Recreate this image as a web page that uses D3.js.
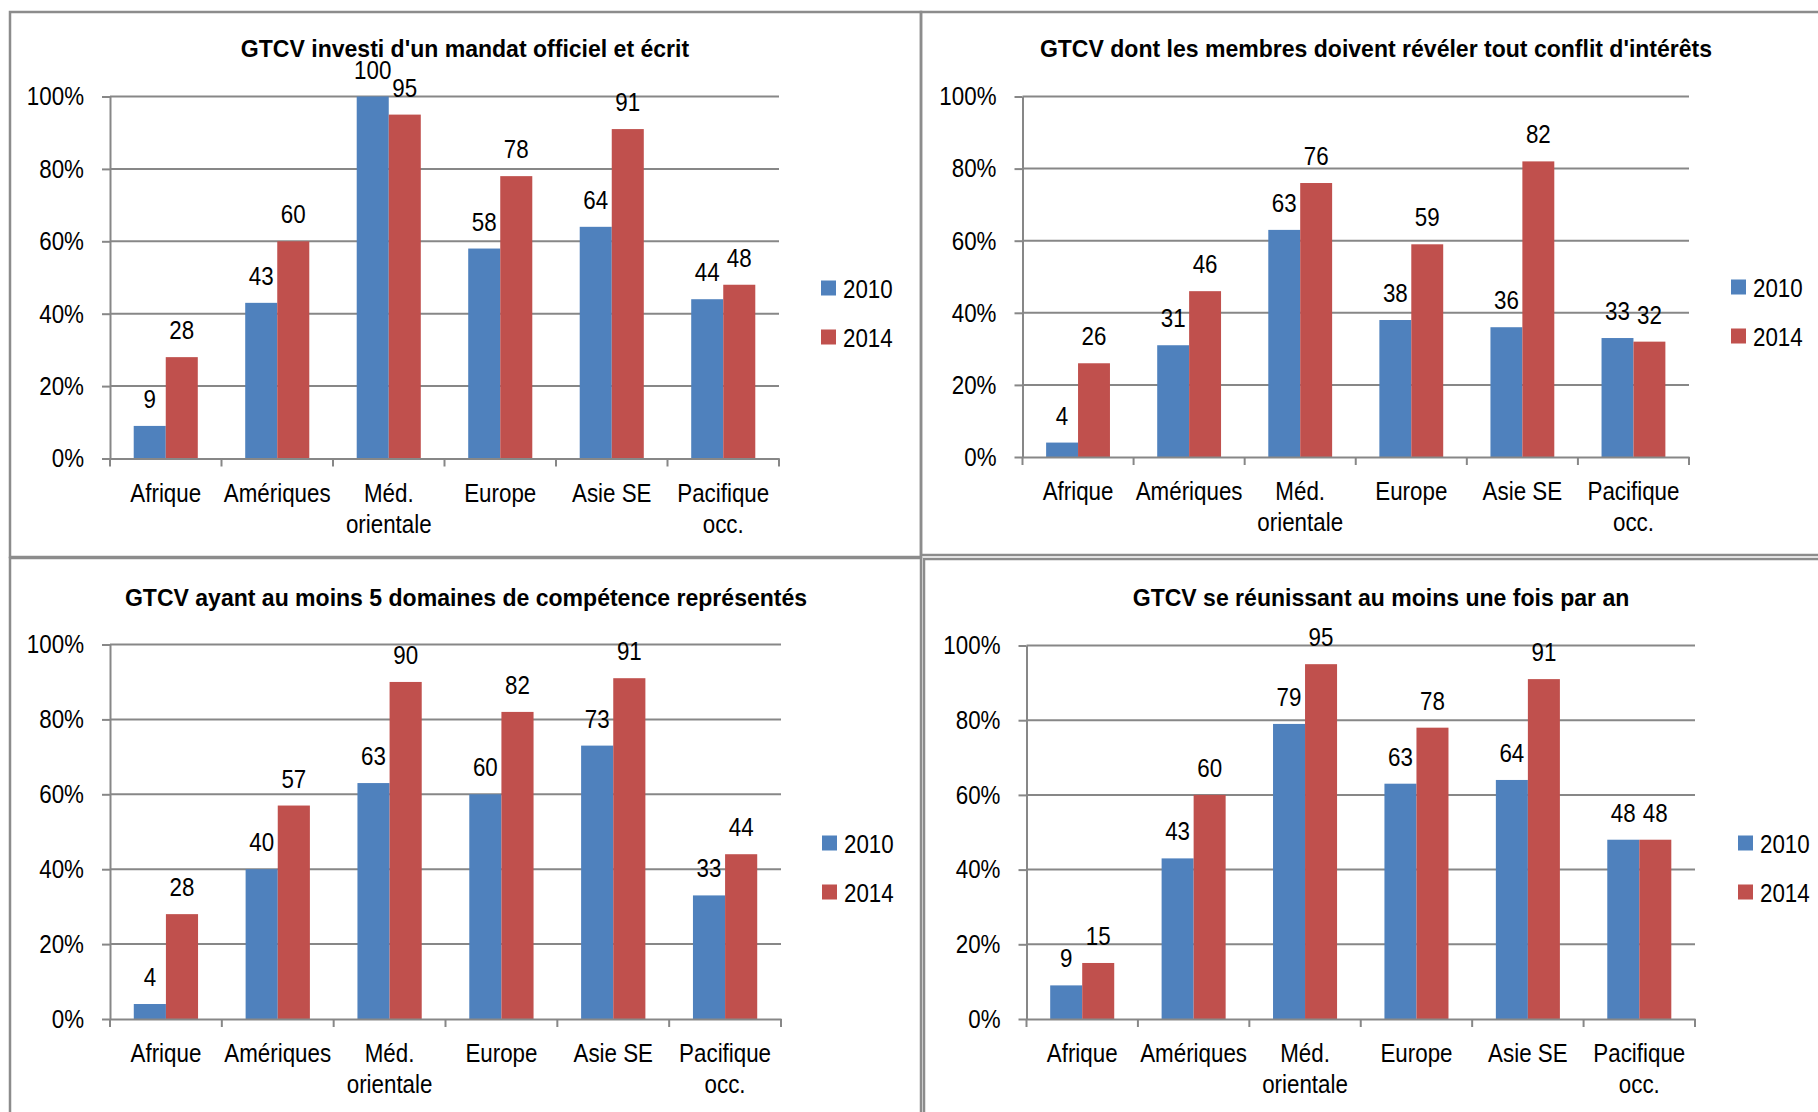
<!DOCTYPE html>
<html lang="fr">
<head>
<meta charset="UTF-8">
<title>GTCV 2010 / 2014</title>
<script src="https://d3js.org/d3.v7.min.js"></script>
<style>
  body { margin: 0; background: #fff; }
  svg text { font-family: "Liberation Sans", Arial, sans-serif; fill: #000; }
  .title { font-weight: bold; font-size: 24px; }
  .grid line { stroke: #878787; stroke-width: 2px; }
  .axis path, .axis line { stroke: #878787; stroke-width: 2px; }
  .axis text, .label, .legend text { font-size: 26px; }
  .frame { fill: none; stroke: #8c8c8c; stroke-width: 2.5px; }
</style>
</head>
<body>
<div id="chart"></div>
<script>
// data
const categories = ["Afrique", "Amériques", "Méd.\norientale", "Europe", "Asie SE", "Pacifique\nocc."];
const years = ["2010", "2014"];
const yTicks = [0, 20, 40, 60, 80, 100];

const titles = [
  "GTCV investi d'un mandat officiel et écrit",
  "GTCV dont les membres doivent révéler tout conflit d'intérêts",
  "GTCV ayant au moins 5 domaines de compétence représentés",
  "GTCV se réunissant au moins une fois par an"
];

const mandat2010 = [9, 43, 100, 58, 64, 44];
const mandat2014 = [28, 60, 95, 78, 91, 48];
const conflit2010 = [4, 31, 63, 38, 36, 33];
const conflit2014 = [26, 46, 76, 59, 82, 32];
const domaines2010 = [4, 40, 63, 60, 73, 33];
const domaines2014 = [28, 57, 90, 82, 91, 44];
const reunion2010 = [9, 43, 79, 63, 64, 48];
const reunion2014 = [15, 60, 95, 78, 91, 48];

const colors = { "2010": "#4F81BD", "2014": "#C0504D" };

// the original uses a narrow face: squeeze Liberation Sans horizontally
function narrow(sel, k) {
  k = k || 0.86;
  sel.each(function() {
    const t = d3.select(this);
    const x = +t.attr("x") || 0, y = +t.attr("y") || 0;
    t.attr("x", 0).attr("y", 0)
     .attr("transform", "translate(" + x + "," + y + ") scale(" + k + ",1)");
  });
}

// layout of the four panels (frame, plot area, title, legend)
const panels = [
  { title: titles[0], s: [mandat2010, mandat2014],
    frame: [10, 12, 921, 557], plot: [110, 96.5, 779, 458.5], titleX: 465, titleY: 57, legX: 821, legY: 288 },
  { title: titles[1], s: [conflit2010, conflit2014],
    frame: [921, 12, 1830, 555], plot: [1022.5, 96.5, 1689, 457], titleX: 1376, titleY: 57, legX: 1731, legY: 287 },
  { title: titles[2], s: [domaines2010, domaines2014],
    frame: [10, 558, 921, 1125], plot: [110, 644.5, 781, 1019], titleX: 466, titleY: 606, legX: 822, legY: 843 },
  { title: titles[3], s: [reunion2010, reunion2014],
    frame: [924, 559, 1830, 1125], plot: [1026.5, 645.5, 1695, 1019], titleX: 1381, titleY: 606, legX: 1738, legY: 843 }
];

const svg = d3.select("#chart").append("svg")
    .attr("width", 1818)
    .attr("height", 1112);

panels.forEach(p => {
  // frame
  svg.append("rect")
      .attr("class", "frame")
      .attr("x", p.frame[0]).attr("y", p.frame[1])
      .attr("width", p.frame[2] - p.frame[0])
      .attr("height", p.frame[3] - p.frame[1]);

  const width = p.plot[2] - p.plot[0],
        height = p.plot[3] - p.plot[1];

  const g = svg.append("g")
      .attr("transform", "translate(" + p.plot[0] + "," + p.plot[1] + ")");

  const x0 = d3.scaleBand().domain(categories).range([0, width]).padding(0);
  const x1 = d3.scaleBand().domain(years).range([0, x0.bandwidth()])
      .paddingInner(0).paddingOuter(0.74);
  const y = d3.scaleLinear().domain([0, 100]).range([height, 0]);

  // gridlines
  g.append("g").attr("class", "grid")
    .selectAll("line")
    .data(yTicks.filter(t => t > 0))
    .join("line")
      .attr("x1", 0).attr("x2", width)
      .attr("y1", d => y(d)).attr("y2", d => y(d));

  // bars
  const rows = categories.map((c, i) => ({ cat: c, vals: years.map((yr, k) => ({ yr: yr, v: p.s[k][i] })) }));

  const grp = g.selectAll(".cat")
    .data(rows)
    .join("g")
      .attr("transform", d => "translate(" + x0(d.cat) + ",0)");

  grp.selectAll("rect")
    .data(d => d.vals)
    .join("rect")
      .attr("x", d => x1(d.yr))
      .attr("width", x1.bandwidth())
      .attr("y", d => y(d.v))
      .attr("height", d => height - y(d.v))
      .attr("fill", d => colors[d.yr]);

  grp.selectAll(".label")
    .data(d => d.vals)
    .join("text")
      .attr("class", "label")
      .attr("x", d => x1(d.yr) + x1.bandwidth() / 2)
      .attr("y", d => y(d.v) - 18)
      .attr("text-anchor", "middle")
      .text(d => d.v)
      .call(narrow);

  // y axis
  const ya = g.append("g").attr("class", "axis")
      .call(d3.axisLeft(y).tickValues(yTicks).tickFormat(d => d + "%")
            .tickSize(8).tickSizeOuter(0).tickPadding(18));
  ya.selectAll(".tick text").call(narrow);

  // x axis
  const xa = g.append("g").attr("class", "axis")
      .attr("transform", "translate(0," + height + ")")
      .call(d3.axisBottom(x0).tickSize(0).tickPadding(25).tickSizeOuter(0));

  xa.selectAll(".tick text").each(function(d) {
    const t = d3.select(this).text("");
    d.split("\n").forEach((line, i) => {
      t.append("tspan").attr("x", 0).attr("dy", i === 0 ? "0.71em" : "1.18em").text(line);
    });
  }).call(narrow);

  // ticks between categories
  xa.selectAll(".sep")
    .data(categories.map(c => x0(c)).concat([width]))
    .join("line")
      .attr("class", "sep")
      .attr("x1", d => d).attr("x2", d => d)
      .attr("y1", 0).attr("y2", 8);

  // title
  svg.append("text")
      .attr("class", "title")
      .attr("x", p.titleX).attr("y", p.titleY)
      .attr("text-anchor", "middle")
      .text(p.title)
      .call(narrow, 0.96);

  // legend
  const leg = svg.append("g").attr("class", "legend")
      .attr("transform", "translate(" + p.legX + "," + p.legY + ")");

  const li = leg.selectAll("g")
    .data(years)
    .join("g")
      .attr("transform", (d, i) => "translate(0," + (i * 49) + ")");

  li.append("rect")
      .attr("x", 0).attr("y", -7.5)
      .attr("width", 15).attr("height", 15)
      .attr("fill", d => colors[d]);

  li.append("text")
      .attr("x", 22).attr("y", 9.5)
      .text(d => d)
      .call(narrow);
});
</script>
</body>
</html>
